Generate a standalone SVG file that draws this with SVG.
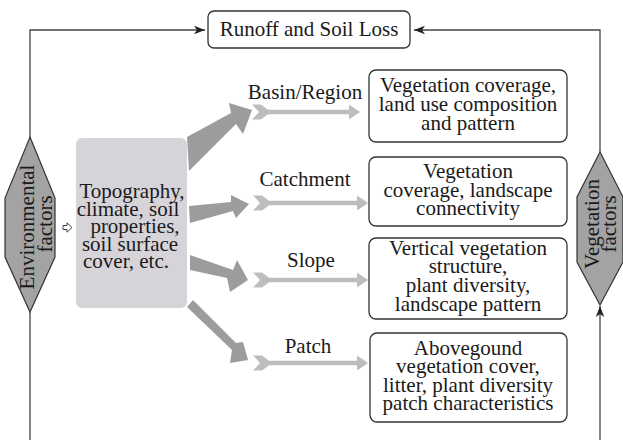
<svg xmlns="http://www.w3.org/2000/svg" width="623" height="440" viewBox="0 0 623 440">
<style>
text{font-family:"Liberation Serif","Times New Roman",serif;font-size:21px;fill:#1a1a1a;text-anchor:middle}
.box{fill:#fff;stroke:#333;stroke-width:1.3}
.hex{fill:#a3a3a3;stroke:#333;stroke-width:1.2}
.line{fill:none;stroke:#444;stroke-width:1.3}
.big{fill:#9c9c9c}
.chev{fill:#bdbdbd}
</style>
<defs>
<marker id="ah" viewBox="-12 -5 13 10" refX="0" refY="0" markerWidth="13" markerHeight="10" markerUnits="userSpaceOnUse" orient="auto">
<path d="M0,0 L-11,-4.2 L-8,0 L-11,4.2 Z" fill="#222"/>
</marker>
</defs>
<rect width="623" height="440" fill="#fff"/>
<g id="connectors">
<path class="line" d="M30,137 V30 H205" marker-end="url(#ah)"/>
<path class="line" d="M600,152 V30 H414" marker-end="url(#ah)"/>
<path class="line" d="M30,312 V440"/>
<path class="line" d="M600,440 V306" marker-end="url(#ah)"/>
<polygon points="63,225.5 67,225.5 67,222.8 72,227.5 67,232.2 67,229.5 63,229.5" fill="#fff" stroke="#444" stroke-width="1"/>
<polygon class="big" points="187,137 231,113 229,103 252,110 243,134 236,124 189,171"/>
<polygon class="big" points="189,206 231,202 231,195 249,204 236,218 233,211 190,223"/>
<polygon class="big" points="190,255 233,270 237,260 248,280 230,292 227,278 190,270"/>
<polygon class="big" points="193,300 236,343 243,342 248,360 230,363 232,350 187,307"/>
<polygon class="chev" transform="translate(252,112)" points="0,-7.5 9,-7.5 16,-2.2 97,-2.2 97,-7.5 108,0 97,7.5 97,2.2 16,2.2 9,7.5 0,7.5 7,0"/>
<polygon class="chev" transform="translate(253,203)" points="0,-7.5 9,-7.5 16,-2.2 104,-2.2 104,-7.5 115,0 104,7.5 104,2.2 16,2.2 9,7.5 0,7.5 7,0"/>
<polygon class="chev" transform="translate(253,280)" points="0,-7.5 9,-7.5 16,-2.2 104,-2.2 104,-7.5 115,0 104,7.5 104,2.2 16,2.2 9,7.5 0,7.5 7,0"/>
<polygon class="chev" transform="translate(253,363)" points="0,-7.5 9,-7.5 16,-2.2 104,-2.2 104,-7.5 115,0 104,7.5 104,2.2 16,2.2 9,7.5 0,7.5 7,0"/>
</g>
<g id="runoff">
<rect class="box" x="208" y="11" width="202" height="37" rx="6"/>
<text x="309" y="36">Runoff and Soil Loss</text>
</g>
<g id="env-factors">
<polygon class="hex" points="30,137 55,198 55,257 30,312 5,257 5,198"/>
<text transform="translate(34,227) rotate(-90)">Environmental</text>
<text transform="translate(52,224) rotate(-90)">factors</text>
</g>
<g id="veg-factors">
<polygon class="hex" points="600,152 623,197 623,262 600,305 577,262 577,197"/>
<text transform="translate(599,224) rotate(-90)">Vegetation</text>
<text transform="translate(616,224) rotate(-90)">factors</text>
</g>
<g id="env-box">
<rect x="76" y="138" width="111" height="170" rx="6" fill="#d6d4d8"/>
<text x="132" y="198">Topography,</text>
<text x="128" y="216">climate, soil</text>
<text x="135" y="233">properties,</text>
<text x="130" y="251">soil surface</text>
<text x="126" y="268">cover, etc.</text>
</g>
<g id="lbl-basin"><text x="305" y="99">Basin/Region</text></g>
<g id="lbl-catchment"><text x="305" y="186">Catchment</text></g>
<g id="lbl-slope"><text x="311" y="267">Slope</text></g>
<g id="lbl-patch"><text x="308" y="353">Patch</text></g>
<g id="box-basin">
<rect class="box" x="369" y="70" width="198" height="72" rx="7"/>
<text x="468" y="92">Vegetation coverage,</text>
<text x="468" y="111">land use composition</text>
<text x="468" y="130">and pattern</text>
</g>
<g id="box-catchment">
<rect class="box" x="369" y="157" width="198" height="69" rx="7"/>
<text x="468" y="178">Vegetation</text>
<text x="468" y="197">coverage, landscape</text>
<text x="468" y="215">connectivity</text>
</g>
<g id="box-slope">
<rect class="box" x="369" y="238" width="198" height="81" rx="7"/>
<text x="468" y="255">Vertical vegetation</text>
<text x="468" y="273">structure,</text>
<text x="468" y="292">plant diversity,</text>
<text x="468" y="311">landscape pattern</text>
</g>
<g id="box-patch">
<rect class="box" x="370" y="333" width="197" height="89" rx="7"/>
<text x="468" y="355">Abovegound</text>
<text x="468" y="373">vegetation cover,</text>
<text x="468" y="392">litter, plant diversity</text>
<text x="468" y="410">patch characteristics</text>
</g>
</svg>
